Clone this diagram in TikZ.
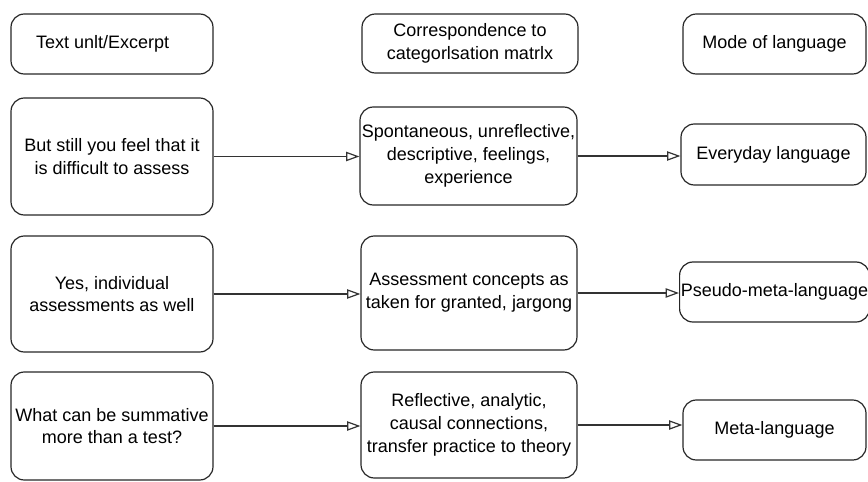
\documentclass[tikz,border=0pt]{standalone}
\usepackage{fontspec}
\setmainfont{Liberation Sans}
\usetikzlibrary{arrows.meta}
\begin{document}
\begin{tikzpicture}[x=0.75pt,y=-0.75pt,
  box/.style={draw=black!85, line width=0.9pt, rounded corners=10pt, align=center,
    inner sep=1pt, font=\fontsize{13.5}{17}\selectfont},
  link/.style={draw=black!80, line width=0.9pt, -{Triangle[open,length=10pt,width=7pt]}}]
\useasboundingbox (0,0) rectangle (868,482);
% headers
\node[box, minimum width={202*0.75pt}, minimum height={60*0.75pt}] (h1) at (112,44) {Text unlt/Excerpt\hspace*{14pt}};
\node[box, minimum width={216*0.75pt}, minimum height={59*0.75pt}] (h2) at (470,43.5) {Correspondence to\\categorlsation matrlx};
\node[box, minimum width={183*0.75pt}, minimum height={60*0.75pt}] (h3) at (774.5,44) {Mode of language};
% row 1
\node[box, minimum width={202*0.75pt}, minimum height={117*0.75pt}] (l1) at (112,156.5) {But still you feel that it\\is difficult to assess};
\node[box, minimum width={217*0.75pt}, minimum height={98*0.75pt}] (m1) at (468.5,156) {Spontaneous, unreflective,\\descriptive, feelings,\\experience};
\node[box, minimum width={185*0.75pt}, minimum height={61*0.75pt}] (r1) at (773.5,154.5) {Everyday language};
% row 2
\node[box, minimum width={202*0.75pt}, minimum height={116*0.75pt}] (l2) at (112,294) {Yes, individual\\assessments as well};
\node[box, minimum width={216*0.75pt}, minimum height={114*0.75pt}] (m2) at (469,293) {Assessment concepts as\\taken for granted, jargong};
\node[box, minimum width={183*0.75pt}, minimum height={60*0.75pt}] (r2) at (774.5,292) {Pseudo-meta-language};
% row 3
\node[box, minimum width={202*0.75pt}, minimum height={108*0.75pt}] (l3) at (112,426) {What can be summative\\more than a test?};
\node[box, minimum width={216*0.75pt}, minimum height={106*0.75pt}] (m3) at (469,425) {Reflective, analytic,\\causal connections,\\transfer practice to theory};
\node[box, minimum width={183*0.75pt}, minimum height={60*0.75pt}] (r3) at (774.5,430) {Meta-language};
% connectors
\draw[link] (l1.east) -- (l1.east -| m1.west);
\draw[link] (m1.east) -- (m1.east -| r1.west);
\draw[link] (l2.east) -- (l2.east -| m2.west);
\draw[link] (m2.east) -- (m2.east -| r2.west);
\draw[link] (l3.east) -- (l3.east -| m3.west);
\draw[link] (m3.east) -- (m3.east -| r3.west);
\end{tikzpicture}
\end{document}
